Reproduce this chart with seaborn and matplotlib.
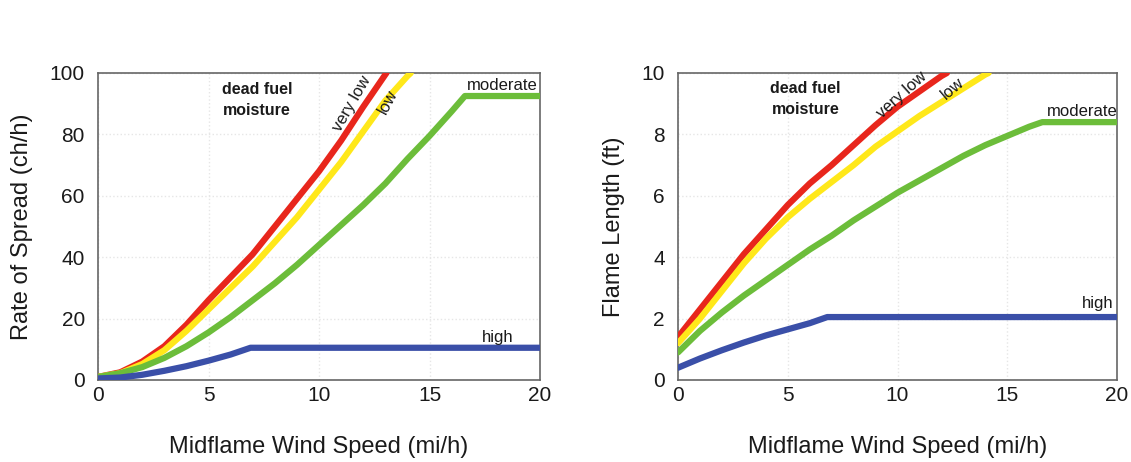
import numpy as np
import pandas as pd
import seaborn as sns
import matplotlib.pyplot as plt

# midflame wind speed (mi/h) and values
wind_vlow = [0, 1, 2, 3, 4, 5, 6, 7, 8, 9, 10, 11, 12, 13, 13.05]
wind_low = [0, 1, 2, 3, 4, 5, 6, 7, 8, 9, 10, 11, 12, 13, 14, 14.15]
wind_mod = [0, 1, 2, 3, 4, 5, 6, 7, 8, 9, 10, 11, 12, 13, 14, 15, 16, 16.6, 20]
wind_high = [0, 1, 2, 3, 4, 5, 6, 6.9, 20]

ros_vlow = [1, 2.5, 6, 11, 18, 26, 33.5, 41, 50, 59, 68, 78, 89, 99.5, 100]
ros_low = [1, 2.2, 5.2, 9.7, 16, 23, 30, 37, 45, 53, 62, 71, 81, 91, 99, 100]
ros_mod = [1, 2.2, 4.2, 7.2, 11, 15.5, 20.5, 26, 31.5, 37.5, 44, 50.5, 57, 64,
           72, 79.5, 87.5, 92.5, 92.5]
ros_high = [0.5, 0.8, 1.7, 3, 4.5, 6.3, 8.3, 10.5, 10.5]

wind_vlow_fl = [0, 1, 2, 3, 4, 5, 6, 7, 8, 9, 10, 11, 12, 12.25]
fl_vlow = [1.4, 2.3, 3.2, 4.1, 4.9, 5.7, 6.4, 7.0, 7.65, 8.3, 8.9, 9.4, 9.9, 10]
fl_low = [1.2, 2.0, 2.9, 3.8, 4.6, 5.3, 5.9, 6.45, 7.0, 7.6, 8.1, 8.6, 9.05,
          9.5, 9.95, 10]
fl_mod = [0.9, 1.6, 2.2, 2.75, 3.25, 3.75, 4.25, 4.7, 5.2, 5.65, 6.1, 6.5, 6.9,
          7.3, 7.65, 7.95, 8.25, 8.4, 8.4]
wind_high_fl = [0, 1, 2, 3, 4, 5, 6, 6.8, 20]
fl_high = [0.4, 0.7, 0.97, 1.22, 1.45, 1.65, 1.85, 2.05, 2.05]

moisture = ['very low', 'low', 'moderate', 'high']
colors = ['#e8261c', '#ffe81a', '#6cbd3a', '#3a4fa8']


def long_form(pairs):
    frames = []
    for name, (x, y) in zip(moisture, pairs):
        frames.append(pd.DataFrame({'wind': x, 'value': y, 'moisture': name}))
    return pd.concat(frames, ignore_index=True)


ros_df = long_form([(wind_vlow, ros_vlow), (wind_low, ros_low),
                    (wind_mod, ros_mod), (wind_high, ros_high)])
fl_df = long_form([(wind_vlow_fl, fl_vlow), (wind_low, fl_low),
                   (wind_mod, fl_mod), (wind_high_fl, fl_high)])

sns.set_style('white')
plt.rcParams['font.family'] = ['Liberation Sans', 'DejaVu Sans']
plt.rcParams['text.color'] = '#1a1a1a'
plt.rcParams['axes.labelcolor'] = '#1a1a1a'
plt.rcParams['xtick.color'] = '#1a1a1a'
plt.rcParams['ytick.color'] = '#1a1a1a'

fig = plt.figure(figsize=(11.31, 4.62), dpi=100)
ax1 = fig.add_axes([0.0867, 0.1775, 0.3908, 0.6645])
ax2 = fig.add_axes([0.5995, 0.1775, 0.3881, 0.6645])

for ax, df, ymax, ystep, ylabel in [(ax1, ros_df, 100, 20, 'Rate of Spread (ch/h)'),
                                    (ax2, fl_df, 10, 2, 'Flame Length (ft)')]:
    sns.lineplot(data=df, x='wind', y='value', hue='moisture', hue_order=moisture,
                 palette=colors, linewidth=4.5, sort=False, estimator=None,
                 legend=False, ax=ax, zorder=3)
    for line in ax.get_lines():
        line.set_solid_joinstyle('round')
    ax.set_xlim(0, 20)
    ax.set_ylim(0, ymax)
    ax.set_xticks(np.arange(0, 21, 5))
    ax.set_xticks(np.arange(0, 21, 1), minor=True)
    ax.set_yticks(np.arange(0, ymax + ystep / 2, ystep))
    ax.tick_params(axis='both', which='major', labelsize=15, color='#555555',
                   length=5, width=1, direction='inout', pad=7)
    ax.tick_params(axis='x', which='major', pad=2)
    ax.tick_params(axis='x', which='minor', color='#555555', length=4,
                   width=1, direction='inout')
    ax.grid(True, which='major', color='#e6e6e6', linestyle=':', linewidth=1)
    for sp in ax.spines.values():
        sp.set_color('#666666')
        sp.set_linewidth(1.2)
    ax.set_xlabel('Midflame Wind Speed (mi/h)', fontsize=17, labelpad=22)
    ax.set_ylabel(ylabel, fontsize=17, labelpad=12)

# annotations, left
ax1.text(7.2, 91.2, 'dead fuel\nmoisture', fontsize=11.5, fontweight='bold',
         ha='center', va='center', linespacing=1.5)
ax1.text(11.5, 90, 'very low', fontsize=12, rotation=60, ha='center', va='center')
ax1.text(13.1, 90.5, 'low', fontsize=12, rotation=62, ha='center', va='center')
ax1.text(18.3, 96, 'moderate', fontsize=12, ha='center', va='center')
ax1.text(18.1, 13.7, 'high', fontsize=12, ha='center', va='center')

# annotations, right
ax2.text(5.8, 9.14, 'dead fuel\nmoisture', fontsize=11.5, fontweight='bold',
         ha='center', va='center', linespacing=1.5)
ax2.text(10.2, 9.3, 'very low', fontsize=12, rotation=42, ha='center', va='center')
ax2.text(12.5, 9.5, 'low', fontsize=12, rotation=40, ha='center', va='center')
ax2.text(18.4, 8.74, 'moderate', fontsize=12, ha='center', va='center')
ax2.text(19.1, 2.25, 'high', fontsize=12, ha='center', va='bottom')

fig.savefig('out.png', dpi=100)
